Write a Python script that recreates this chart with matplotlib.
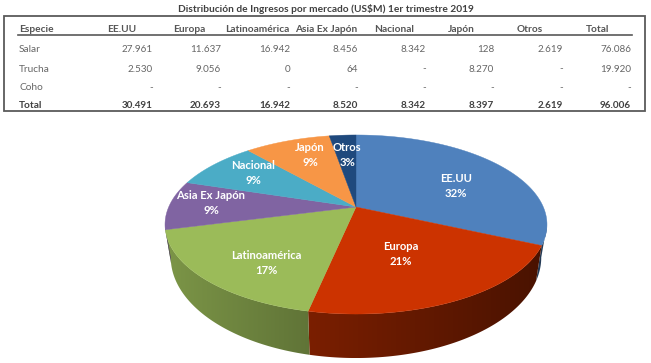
import matplotlib
matplotlib.use("Agg")
import matplotlib.pyplot as plt
import numpy as np
from matplotlib.patches import Polygon, Rectangle

plt.rcParams["font.family"] = ["Lato", "DejaVu Sans"]

# ── table data ──
TITLE = "Distribución de Ingresos por mercado (US$M) 1er trimestre 2019"
columns = ["Especie", "EE.UU", "Europa", "Latinoamérica", "Asia Ex Japón", "Nacional", "Japón", "Otros", "Total"]
salar = ["Salar", "27.961", "11.637", "16.942", "8.456", "8.342", "128", "2.619", "76.086"]
trucha = ["Trucha", "2.530", "9.056", "0", "64", "-", "8.270", "-", "19.920"]
coho = ["Coho", "-", "-", "-", "-", "-", "-", "-", "-"]
total = ["Total", "30.491", "20.693", "16.942", "8.520", "8.342", "8.397", "2.619", "96.006"]

# ── pie data ──
markets = ["EE.UU", "Europa", "Latinoamérica", "Asia Ex Japón", "Nacional", "Japón", "Otros"]
income = [30491, 20693, 16942, 8520, 8342, 8397, 2619]
pct_labels = ["32%", "21%", "17%", "9%", "9%", "9%", "3%"]
colors = ["#4f81bd", "#cc3300", "#9bbb59", "#8064a2", "#4bacc6", "#f79646", "#1f497d"]

# layout, in reference pixels
header_x = [19, 107, 173, 225, 295, 374, 448, 517, 586]
right_x = [153, 221, 290, 358, 426, 494, 563, 631]
row_y = [29, 49, 69, 88, 106]
label_xy = [(456, 186), (401, 254), (266, 263), (211, 203), (253, 173), (310, 155), (347, 155)]
side_shade = [(0.45, 0.45), (0.36, 0.60), (0.62, 0.80), (0.6, 0.6), (0.6, 0.6), (0.6, 0.6), (0.6, 0.6)]

CX, CY = 356, 207   # apex of the pie
A, B, K = 187.3, 86.1, 0.1955   # perspective of the top face
TABLE_FS = 7.3
VALUE_FS = 7.1
LABEL_FS = 8.1


def rim(theta):
    """theta: radians clockwise from 12 o'clock -> pixel coords of the top rim"""
    d = 1 + K * np.cos(theta)
    return CX + A * np.sin(theta) / d, CY - B * np.cos(theta) / d


def lower(x, y):
    drop = 44 - (314 - y) * 0.125
    return CX + (x - CX) * 0.97, y + drop


def shade(color, f):
    return np.array(matplotlib.colors.to_rgb(color)) * f


fig = plt.figure(figsize=(6.51, 3.63), dpi=100)
ax = fig.add_axes([0, 0, 1, 1])
ax.set_xlim(0, 651)
ax.set_ylim(363, 0)
ax.axis("off")

# ── table ──
ax.text(326, 9.5, TITLE, ha="center", va="center", fontsize=TABLE_FS, fontweight="bold", color="#404040")
ax.add_patch(Rectangle((4, 16), 641, 95, fill=False, ec="#5a5a5a", lw=1.3))
ax.plot([18, 632], [35, 35], color="#595959", lw=1.2)

for x, name in zip(header_x, columns):
    ax.text(x, row_y[0], name, ha="left", va="center", fontsize=TABLE_FS, fontweight="bold", color="#555555")

for y, row in zip(row_y[1:], [salar, trucha, coho, total]):
    bold = row[0] == "Total"
    weight = "bold" if bold else "normal"
    col = "#404040" if bold else "#666666"
    ax.text(header_x[0], y, row[0], ha="left", va="center", fontsize=TABLE_FS, fontweight=weight, color=col)
    for x, val in zip(right_x, row[1:]):
        ax.text(x, y, val, ha="right", va="center", fontsize=VALUE_FS, fontweight=weight, color=col)

# ── pie ──
edges = np.concatenate([[0], np.cumsum(income)]) / sum(income) * 2 * np.pi
t_right = np.arccos(-K)   # where the rim is widest, the wall starts here
t_left = 2 * np.pi - t_right

# side wall first, only the part of the rim that faces the viewer
for i, color in enumerate(colors):
    t0, t1 = max(edges[i], t_right), min(edges[i + 1], t_left)
    if t1 <= t0:
        continue
    ts = np.linspace(t0, t1, 120)
    xs, ys = rim(ts)
    lx, ly = lower(xs, ys)
    wall = Polygon(np.column_stack([np.r_[xs, lx[::-1]], np.r_[ys, ly[::-1]]]), fc="none", ec="none", zorder=2)
    ax.add_patch(wall)
    # horizontal gradient, clipped to the wall
    f = np.linspace(side_shade[i][0], side_shade[i][1], 128)
    if xs[0] > xs[-1]:
        f = f[::-1]
    grad = np.array([[shade(color, v) for v in f]])
    im = ax.imshow(grad, extent=[min(xs.min(), lx.min()), max(xs.max(), lx.max()), ly.max(), ys.min()],
                   aspect="auto", zorder=2, interpolation="bilinear")
    im.set_clip_path(wall)
ax.set_xlim(0, 651)
ax.set_ylim(363, 0)

# top face
for i, color in enumerate(colors):
    ts = np.linspace(edges[i], edges[i + 1], 120)
    xs, ys = rim(ts)
    pts = [(CX, CY)] + list(zip(xs, ys))
    ax.add_patch(Polygon(pts, fc=color, ec=color, lw=0.3, zorder=3))

for (x, y), name, pct in zip(label_xy, markets, pct_labels):
    ax.text(x, y - 7.5, name, ha="center", va="center", fontsize=LABEL_FS, fontweight="bold", color="white", zorder=4)
    ax.text(x, y + 7.5, pct, ha="center", va="center", fontsize=LABEL_FS, fontweight="bold", color="white", zorder=4)

fig.savefig("out.png", dpi=100)
